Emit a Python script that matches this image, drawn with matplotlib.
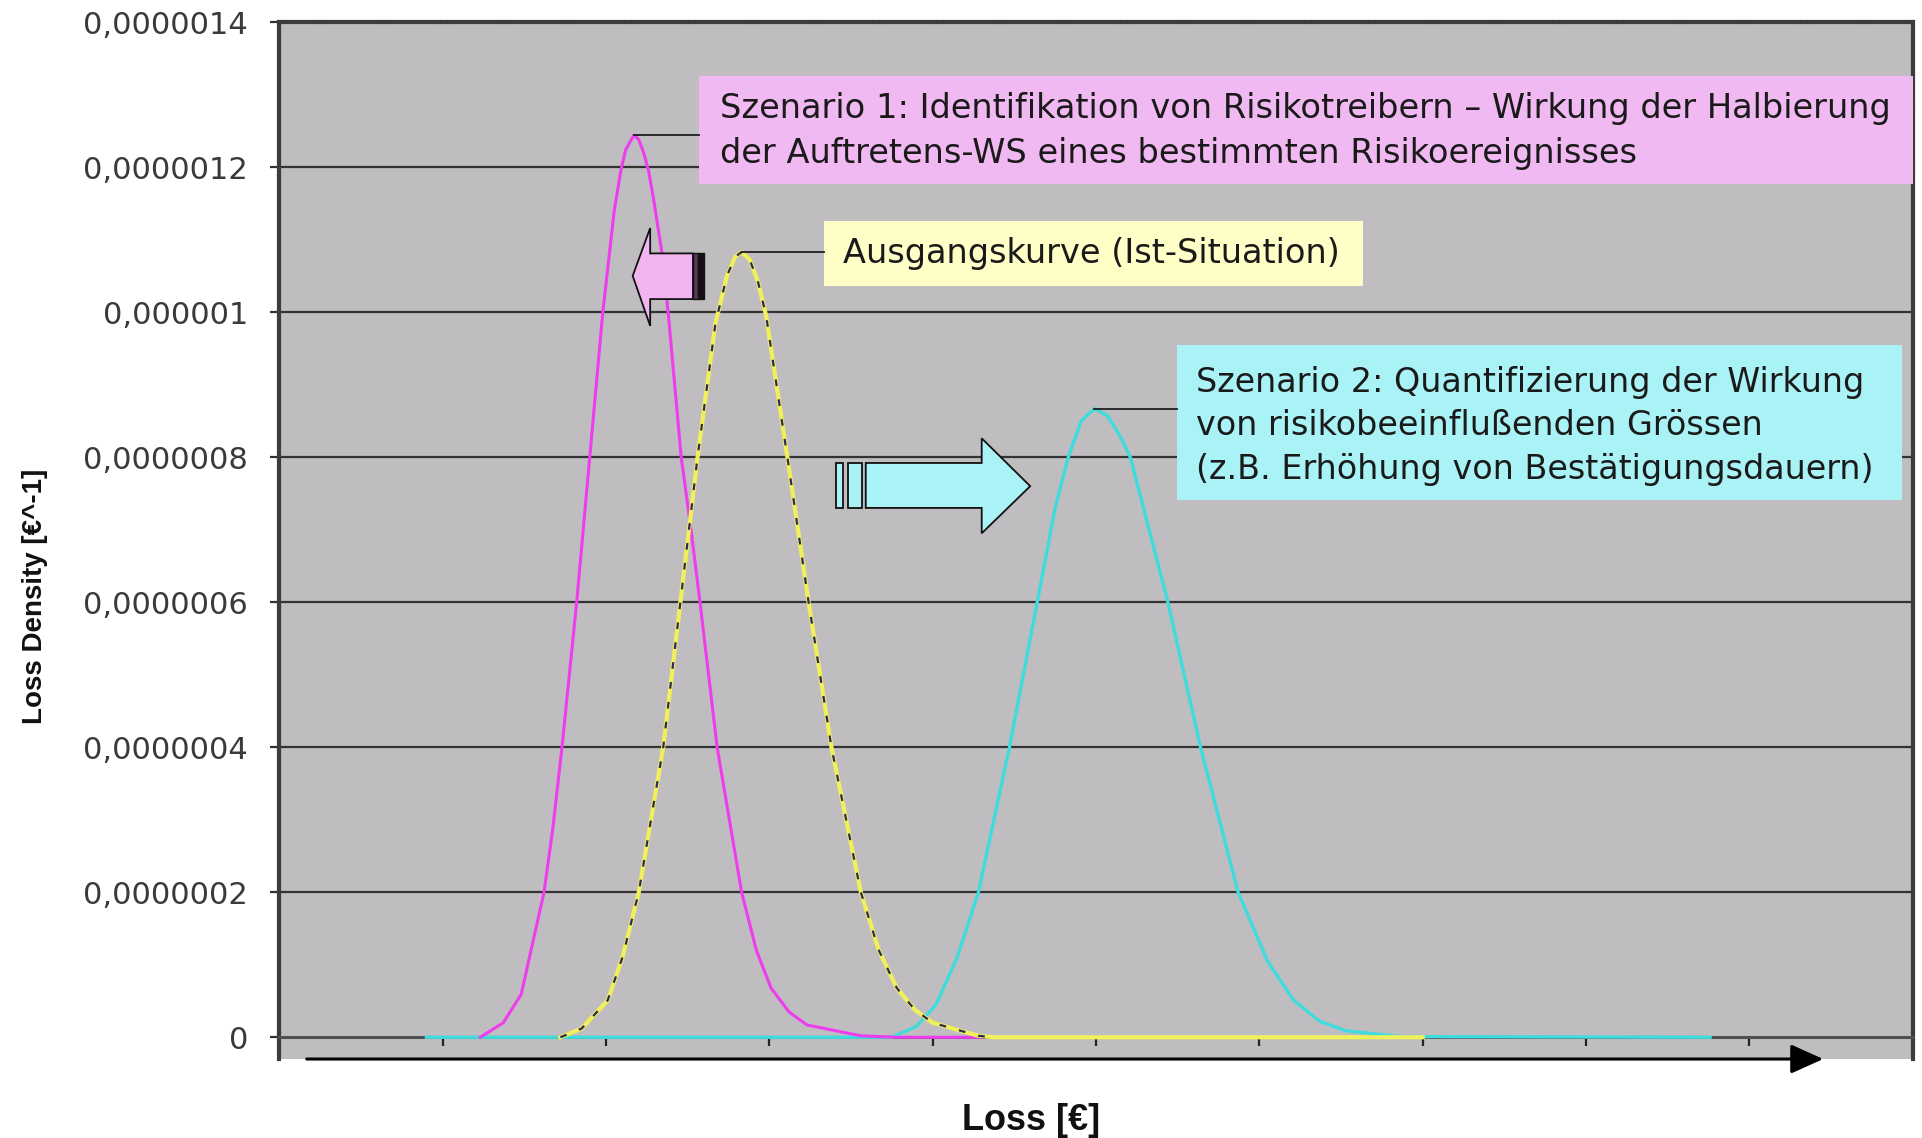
import matplotlib
matplotlib.use('Agg')
import matplotlib.pyplot as plt
from matplotlib import font_manager
from matplotlib.patches import Rectangle, Polygon

# loss axis in category units (Excel x axis, 10 intervals, no labels)
# densities in units of 1e-7 per EUR
loss_s1 = [1.23, 1.37, 1.48, 1.62, 1.675, 1.73, 1.82, 1.90, 1.98, 2.05, 2.09, 2.12,
           2.17, 2.20, 2.23, 2.26, 2.29, 2.34, 2.38, 2.46, 2.52, 2.575, 2.68, 2.83, 2.92,
           3.01, 3.12, 3.23, 3.56, 3.78, 4.30]
dens_s1 = [0, 0.2, 0.59, 2.0, 2.9, 4.0, 6.0, 8.0, 10.0, 11.4, 11.95, 12.24,
           12.44, 12.38, 12.2, 11.95, 11.57, 10.85, 10.0, 8.0, 7.0, 6.0, 4.0, 2.0, 1.2,
           0.68, 0.35, 0.17, 0.02, 0, 0]

loss_base = [1.72, 1.85, 2.01, 2.10, 2.20, 2.35, 2.455, 2.56, 2.67, 2.74, 2.79, 2.83,
             2.88, 2.93, 2.98, 3.11, 3.24, 3.38, 3.56, 3.67, 3.78, 3.89, 4.00, 4.28, 4.37,
             7.00]
dens_base = [0, 0.12, 0.51, 1.1, 2.0, 4.0, 6.0, 8.0, 9.85, 10.5, 10.76, 10.83,
             10.72, 10.42, 9.95, 8.0, 6.0, 4.0, 2.0, 1.2, 0.68, 0.38, 0.2, 0.02, 0,
             0]

loss_s2 = [0.90, 3.75, 3.90, 4.02, 4.15, 4.28, 4.47, 4.64, 4.75, 4.83, 4.91, 4.99,
           5.07, 5.14, 5.21, 5.44, 5.64, 5.87, 6.05, 6.21, 6.37, 6.53, 6.86, 8.76]
dens_s2 = [0, 0, 0.15, 0.45, 1.1, 2.0, 4.0, 6.0, 7.3, 8.0, 8.5, 8.67,
           8.57, 8.32, 8.0, 6.0, 4.0, 2.0, 1.05, 0.51, 0.22, 0.09, 0.01, 0]

y_ticks = [0, 2e-7, 4e-7, 6e-7, 8e-7, 10e-7, 12e-7, 14e-7]
y_labels = ['0', '0,0000002', '0,0000004', '0,0000006', '0,0000008',
            '0,000001', '0,0000012', '0,0000014']

txt_s1 = ('Szenario 1: Identifikation von Risikotreibern \u2013 Wirkung der Halbierung\n'
          'der Auftretens-WS eines bestimmten Risikoereignisses')
txt_base = 'Ausgangskurve (Ist-Situation)'
txt_s2 = ('Szenario 2: Quantifizierung der Wirkung\n'
          'von risikobeeinflu\u00dfenden Gr\u00f6ssen\n'
          '(z.B. Erh\u00f6hung von Best\u00e4tigungsdauern)')

E = 1e-7
installed = {f.name for f in font_manager.fontManager.ttflist}
narrow = 'Liberation Sans Narrow' if 'Liberation Sans Narrow' in installed else 'Liberation Sans'
plt.rcParams['font.family'] = ['DejaVu Sans']

fig = plt.figure(figsize=(19.22, 11.38), dpi=100)
ax = fig.add_axes([0.1454, 0.0694, 0.8497, 0.9112])
ax.set_facecolor('#c0bdc0')
ax.set_xlim(0, 10)
ax.set_ylim(-0.30 * E, 14 * E)

# horizontal gridlines
for v in y_ticks[1:-1]:
    ax.axhline(v, color='#333333', lw=1.6, zorder=1)

for side in ['left', 'top', 'right']:
    ax.spines[side].set_color('#3c3c3c')
    ax.spines[side].set_linewidth(3)
    ax.spines[side].set_linestyle((0, (1, 0.7)))
ax.spines['bottom'].set_position(('data', 0))
ax.spines['bottom'].set_color('#505050')
ax.spines['bottom'].set_linewidth(2.2)

ax.set_xticks(range(1, 10))
ax.tick_params(axis='x', length=6.5, width=1.6, color='#222222', labelbottom=False)
ax.set_yticks(y_ticks)
ax.set_yticklabels(y_labels)
ax.tick_params(axis='y', length=6.5, width=1.6, color='#333333', pad=16,
               labelsize=22, labelcolor='#3a3a3a')

# curves
ax.plot(loss_s2, [d * E for d in dens_s2], color='#3edcdc', lw=2.4, zorder=3)
ax.plot(loss_s1, [d * E for d in dens_s1], color='#ee3cee', lw=2.2, zorder=3)
ax.plot(loss_base, [d * E for d in dens_base], color='#f2f05a', lw=3.0, zorder=3)
ax.plot(loss_base[:-1], [d * E for d in dens_base[:-1]], color='#2b2b55', lw=1.6,
        dashes=(3, 6), zorder=3.1)

# callout boxes
ax.add_patch(Rectangle((2.57, 11.77 * E), 10 - 2.57, 1.49 * E, fc='#f1b9f1', ec='none',
                       zorder=4, clip_on=False))
ax.add_patch(Rectangle((3.335, 10.36 * E), 3.30, 0.90 * E, fc='#fefec6', ec='none', zorder=4))
ax.add_patch(Rectangle((5.496, 7.41 * E), 4.44, 2.135 * E, fc='#a9f3f7', ec='none', zorder=4))

ax.text(2.70, 12.50 * E, txt_s1, ha='left', va='center', fontsize=24.2, color='#1a1a1a',
        linespacing=1.45, zorder=5)
ax.text(3.45, 10.81 * E, txt_base, ha='left', va='center', fontsize=24.2, color='#1a1a1a', zorder=5)
ax.text(5.61, 8.43 * E, txt_s2, ha='left', va='center', fontsize=24, color='#1a1a1a',
        linespacing=1.42, zorder=5)

# leader lines from peaks to boxes
for xs, ds, box_left in [(loss_s1, dens_s1, 2.57), (loss_base, dens_base, 3.335),
                         (loss_s2, dens_s2, 5.496)]:
    i = ds.index(max(ds))
    ax.plot([xs[i], box_left], [ds[i] * E, ds[i] * E], color='#1e1e1e', lw=1.3, zorder=4)

# block arrows
ax.add_patch(Polygon([(2.163, 10.50 * E), (2.27, 11.16 * E), (2.27, 10.81 * E),
                      (2.532, 10.81 * E), (2.532, 10.18 * E), (2.27, 10.18 * E),
                      (2.27, 9.81 * E)], closed=True, fc='#f1b5f1', ec='#111111',
                     lw=1.3, zorder=4))
ax.add_patch(Rectangle((2.532, 10.18 * E), 0.033, 0.63 * E, fc='#5a3a5a', ec='#111111',
                       lw=1.0, zorder=4))
ax.add_patch(Rectangle((2.565, 10.18 * E), 0.035, 0.63 * E, fc='#151015', ec='#111111',
                       lw=1.0, zorder=4))

ax.add_patch(Rectangle((3.408, 7.30 * E), 0.041, 0.62 * E, fc='#a9f3f7', ec='#111111',
                       lw=1.3, zorder=4))
ax.add_patch(Rectangle((3.481, 7.30 * E), 0.084, 0.62 * E, fc='#a9f3f7', ec='#111111',
                       lw=1.3, zorder=4))
ax.add_patch(Polygon([(3.590, 7.92 * E), (4.300, 7.92 * E), (4.300, 8.26 * E),
                      (4.597, 7.60 * E), (4.300, 6.95 * E), (4.300, 7.30 * E),
                      (3.590, 7.30 * E)], closed=True, fc='#a9f3f7', ec='#111111',
                     lw=1.3, zorder=4))

# loss direction arrow under the axis
ax.annotate('', xy=(9.47, -0.30 * E), xytext=(0.15, -0.30 * E),
            arrowprops=dict(arrowstyle='-|>,head_length=0.4,head_width=0.18',
                            color='black', lw=2.2, mutation_scale=50),
            annotation_clip=False)

fig.text(0.018, 0.4763, 'Loss Density [\u20ac^-1]', rotation=90, ha='center', va='center',
         fontsize=20, fontweight='bold', family=[narrow, 'DejaVu Sans'], color='#111111')
fig.text(0.5365, 0.007, 'Loss [\u20ac]', ha='center', va='baseline', fontsize=26,
         fontweight='bold', family=[narrow, 'DejaVu Sans'], color='#111111')

fig.savefig('out.png', dpi=100, facecolor='white')
